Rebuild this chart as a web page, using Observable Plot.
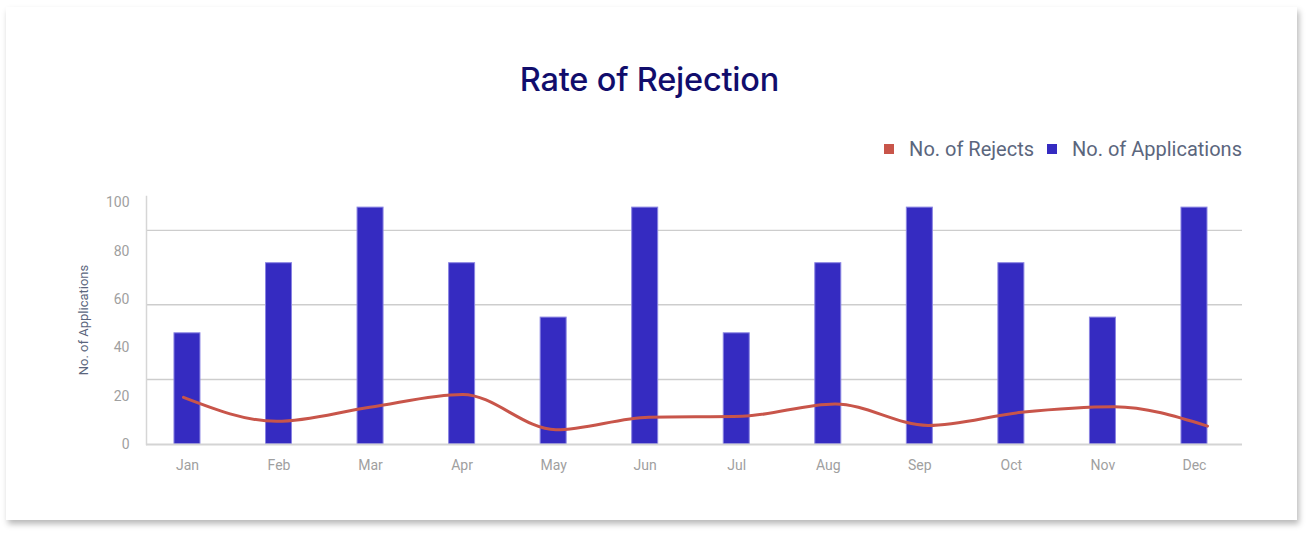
<!DOCTYPE html>
<html>
<head>
<meta charset="utf-8">
<script src="https://cdn.jsdelivr.net/npm/d3@7"></script>
<script src="https://cdn.jsdelivr.net/npm/@observablehq/plot@0.6"></script>
<style>
  html, body { margin: 0; padding: 0; background: #fff; width: 1310px; height: 535px; overflow: hidden; font-family: Roboto, sans-serif; }
  #card { position: absolute; left: 6px; top: 7px; width: 1291px; height: 513px; background: #fff;
          box-shadow: 2px 4px 6px rgba(0,0,0,0.28); }
  #title { position: absolute; left: 0; width: 1299px; top: 64px; text-align: center; font-family: Inter, Roboto, sans-serif;
           font-size: 32.5px; line-height: 32.5px; font-weight: 500; color: #110d6c; letter-spacing: -0.2px; }
  #legend { position: absolute; right: 68px; top: 139px; display: flex; align-items: center; font-size: 20px; line-height: 20px; color: #5b667d; }
  #legend .sw { width: 10px; height: 10px; display: inline-block; margin-right: 15px; }
  #legend .item { display: flex; align-items: center; margin-left: 13px; }
  #ylab { position: absolute; left: 83px; top: 320px; transform: translate(-50%, -50%) rotate(-90deg); white-space: nowrap;
          font-size: 13px; color: #5b667d; }
  .layer { position: absolute; left: 0; top: 170px; }
</style>
</head>
<body>
<div id="card"></div>
<div id="title">Rate of Rejection</div>
<div id="legend"></div>
<div id="ylab">No. of Applications</div>
<div id="bars" class="layer"></div>
<div id="line" class="layer"></div>
<script>
const months = ["Jan","Feb","Mar","Apr","May","Jun","Jul","Aug","Sep","Oct","Nov","Dec"];
const applications = [46, 75, 98, 75, 52.5, 98, 46, 75, 98, 75, 52.5, 98];
const rejects = [19.5, 9.6, 15.4, 20.7, 6.1, 11.3, 11.7, 16.8, 7.9, 13.3, 15.6, 7.6];
const yTicks = [0, 20, 40, 60, 80, 100];
const gridValues = [26.9, 57.8, 88.6];
const seriesNames = ["No. of Rejects", "No. of Applications"];
const seriesColors = ["#c8554a", "#352bc1"];

const data = months.map((m, i) => ({month: m, applications: applications[i], rejects: rejects[i]}));

// legend
const legend = document.getElementById("legend");
seriesNames.forEach((name, i) => {
  const item = document.createElement("div");
  item.className = "item";
  const sw = document.createElement("span");
  sw.className = "sw";
  sw.style.background = seriesColors[i];
  const t = document.createElement("span");
  t.textContent = name;
  item.appendChild(sw); item.appendChild(t);
  legend.appendChild(item);
});

const W = 1310, H = 320;
const yScale = {domain: [0, 102.6]};

const barsPlot = Plot.plot({
  width: W, height: H,
  marginTop: 26, marginBottom: 46, marginLeft: 146, marginRight: 68,
  style: {fontFamily: "Roboto, sans-serif", background: "transparent", overflow: "visible"},
  x: {domain: months, paddingInner: 0.716, paddingOuter: 0.344, align: 0.444, round: false},
  y: yScale,
  marks: [
    Plot.ruleY(gridValues, {stroke: "#cdcdcd", strokeWidth: 1.4}),
    Plot.barY(data, {x: "month", y: "applications", fill: seriesColors[1], stroke: "#8a84e2", strokeWidth: 1, inset: 0}),
    Plot.ruleY([0], {stroke: "#d4d4d4", strokeWidth: 2}),
    Plot.frame({anchor: "left", stroke: "#d6d6d6", strokeWidth: 1.5}),
    Plot.axisY(yTicks, {tickSize: 0, tickPadding: 17, fontSize: 14, color: "#a0a0a0", label: null}),
    Plot.axisX({tickSize: 0, tickPadding: 16, fontSize: 14, color: "#a0a0a0", label: null})
  ]
});
document.getElementById("bars").appendChild(barsPlot);

const linePlot = Plot.plot({
  width: W, height: H,
  marginTop: 26, marginBottom: 46, marginLeft: 183, marginRight: 103,
  style: {background: "transparent", overflow: "visible"},
  x: {type: "point", domain: months, padding: 0, axis: null, round: false},
  y: {...yScale, axis: null},
  marks: [
    Plot.line(data, {x: "month", y: "rejects", curve: "monotone-x", stroke: seriesColors[0], strokeWidth: 3})
  ]
});
document.getElementById("line").appendChild(linePlot);
</script>
</body>
</html>
